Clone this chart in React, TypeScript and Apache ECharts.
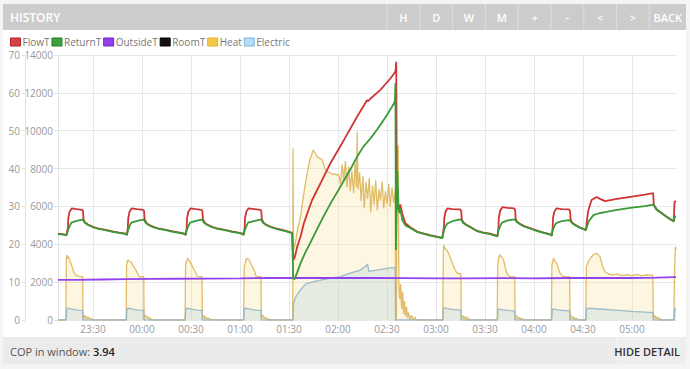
import React, { useEffect, useRef } from "react";
import * as echarts from "echarts";

// x values: minutes since 23:00
const timeTicks = [30, 60, 90, 120, 150, 180, 210, 240, 270, 300, 330, 360];
const tempTicks = [0, 10, 20, 30, 40, 50, 60, 70];
const heatTicks = [0, 2000, 4000, 6000, 8000, 10000, 12000, 14000];
const seriesNames = ["FlowT", "ReturnT", "OutsideT", "RoomT", "Heat", "Electric"];

const flowT: number[][] = [
  [8.6, 22.8], [11, 22.7], [13.8, 22.5], [14.1, 22.4], [14.7, 24.5], [14.9, 26.9], [15.7, 28.6], [17.1, 29.5], [20, 29.3], [23.3, 29.1], [23.9, 28.8], [24.2, 26.7], [25, 25.8], [27, 25.2], [30, 24.6], [33, 24.2], [37, 23.9], [42, 23.4], [46, 23.1], [50.2, 22.8], [50.8, 22.5],
  [51.4, 24.5], [51.6, 26.9], [52.4, 28.6], [53.8, 29.5], [57, 29.3], [60.7, 29.1], [61.3, 28.8], [61.6, 26.7], [62.5, 25.8], [64, 25.2], [67, 24.6], [70, 24.2], [74, 23.9], [79, 23.4], [83, 23.1], [86.2, 22.8], [86.8, 22.5],
  [87.4, 24.5], [87.6, 26.9], [88.4, 28.6], [89.8, 29.5], [93, 29.3], [96.4, 29.1], [97, 28.8], [97.3, 26.7], [98.2, 25.8], [100, 25.2], [103, 24.6], [106, 24.2], [110, 23.9], [115, 23.4], [119, 23.1], [121.7, 22.8], [122.3, 22.5],
  [122.9, 24.5], [123.1, 26.9], [123.9, 28.6], [125.3, 29.5], [129, 29.3], [132.5, 29.1], [133.1, 28.8], [133.4, 26.7], [134.3, 25.8], [136, 25.2], [139, 24.6], [142, 24.2], [146, 23.8], [150, 23.3], [152.0, 23.0],
  [152.6, 15.8], [153.5, 16.5], [155.1, 19.4], [157.1, 22.0], [159.1, 25.5], [161.5, 28.5], [164.2, 31.7], [169.3, 36.1], [175.4, 41.4], [183.6, 47.5], [191.7, 53.7], [197.9, 58.1], [198.6, 57.8], [199.5, 58.3], [206, 60.8], [212.1, 63.8], [214.5, 65.2], [215.3, 65.8], [215.7, 68.2], [216.1, 30.0], [217.2, 29.0], [218.2, 30.5], [219.4, 28.0], [221.3, 25.6], [224.3, 24.5], [228.6, 23.3], [236.5, 22.4], [243.9, 21.7],
  [244.9, 24.5], [245.1, 26.9], [245.9, 28.6], [247, 29.5], [250, 29.3], [254.9, 29.2], [255.5, 28.8], [255.8, 26.7], [256.7, 25.8], [258.5, 25.2], [261, 24.6], [265, 23.6], [269, 23.1], [273.2, 22.8], [277.7, 22.2],
  [278.3, 24.5], [278.5, 27.0], [279.3, 28.8], [280.6, 29.8], [284, 29.6], [287.9, 29.5], [288.5, 29.0], [288.8, 26.8], [289.7, 26.0], [291.5, 25.4], [294, 24.8], [298, 24.2], [302, 23.6], [306, 23.1], [310.3, 22.6], [310.9, 22.3],
  [311.5, 24.5], [311.7, 27.0], [312.5, 28.6], [313.9, 29.5], [317, 29.3], [321.5, 29.2], [322.1, 28.8], [322.4, 26.7], [323.3, 25.8], [325, 25.2], [328, 24.5], [331.9, 23.8],
  [332.5, 26.5], [333.3, 29.0], [335.3, 31.7], [338.4, 32.5], [340.5, 32.0], [343.5, 31.4], [350, 31.9], [360, 32.6], [368, 33.1], [373, 33.5], [373.4, 30.4], [375, 29.3], [377.1, 28.6], [380.7, 27.5], [383, 26.8], [385.6, 26.1], [386.1, 31.2], [387.0, 31.4],
];

const returnT: number[][] = [
  [8.6, 22.7], [11, 22.6], [13.8, 22.4], [14.1, 22.3], [14.6, 23.5], [15.5, 24.6], [16.8, 25.7], [20, 26.2], [23.5, 26.5], [24.0, 26.4], [25, 25.7], [27, 25.1], [30, 24.5], [33, 24.1], [37, 23.8], [42, 23.3], [46, 23.0], [50.2, 22.7], [50.8, 22.4],
  [51.3, 23.5], [52.2, 24.6], [53.5, 25.7], [57, 26.2], [60.8, 26.5], [61.3, 26.4], [62.3, 25.7], [64, 25.1], [67, 24.5], [70, 24.1], [74, 23.8], [79, 23.3], [83, 23.0], [86.2, 22.7], [86.8, 22.4],
  [87.3, 23.5], [88.2, 24.6], [89.5, 25.7], [93, 26.2], [96.5, 26.5], [97, 26.4], [98, 25.7], [100, 25.1], [103, 24.5], [106, 24.1], [110, 23.8], [115, 23.3], [119, 23.0], [121.7, 22.7], [122.3, 22.4],
  [122.8, 23.5], [123.7, 24.6], [125, 25.7], [129, 26.2], [132.6, 26.5], [133.1, 26.4], [134.1, 25.7], [136, 25.1], [139, 24.5], [142, 24.1], [146, 23.7], [150, 23.2], [152.0, 22.9],
  [152.6, 11.0], [153.5, 10.8], [155, 12.5], [157.1, 15.0], [160, 17.8], [163, 20.3], [167, 23.8], [171.1, 27.3], [175.5, 30.8], [180.3, 34.3], [184.5, 37.5], [188.5, 40.5], [192, 43.3], [195.6, 45.8], [200, 48.0], [203.8, 50.2], [207, 52.2], [209.9, 54.1], [212.5, 55.9], [214.5, 57.4], [214.9, 58.0], [215.2, 62.5], [215.5, 18.5], [216.3, 39.6], [217, 30.8], [217.6, 28.2], [218.2, 29.4], [219.4, 26.4], [221.3, 25.0], [224.3, 24.3], [228.6, 23.2], [236.5, 22.3], [243.9, 21.6],
  [244.8, 23.5], [245.7, 24.6], [247, 25.5], [250, 26.1], [255, 26.6], [255.5, 26.5], [256.5, 25.7], [258.5, 25.1], [261, 24.5], [265, 23.5], [269, 23.0], [273.2, 22.7], [277.7, 22.1],
  [278.2, 23.5], [279.1, 24.6], [280.4, 25.7], [284, 26.3], [288, 26.6], [288.5, 26.5], [289.5, 25.9], [291.5, 25.3], [294, 24.7], [298, 24.1], [302, 23.5], [306, 23.0], [310.3, 22.5], [310.9, 22.2],
  [311.4, 23.5], [312.3, 24.6], [313.6, 25.6], [317, 26.1], [321.6, 26.4], [322.1, 26.3], [323.1, 25.7], [325, 25.1], [328, 24.4], [331.9, 23.7],
  [332.5, 24.8], [333.5, 26.0], [336.4, 27.7], [340, 28.2], [343.5, 28.5], [350, 29.0], [360, 29.7], [368, 30.1], [373, 30.5], [373.4, 30.3], [375, 29.2], [377.1, 28.5], [380.7, 27.4], [383, 26.7], [385.6, 26.0], [386.2, 27.3], [387.0, 27.4],
];

const outsideT: number[][] = [
  [8.6, 10.6], [20, 10.6], [35, 10.7], [50, 10.8], [65, 10.85], [80, 10.9], [100, 10.95], [120, 11.0], [140, 11.1], [160, 11.15], [180, 11.1], [200, 11.1], [220, 11.05], [240, 11.0], [260, 11.0], [280, 11.05], [300, 11.0], [320, 11.1], [340, 11.1], [360, 11.1], [375, 11.2], [387, 11.35],
];

const roomT: number[][] = [];

const heat: number[][] = [
  [8.6, 0], [13.4, 0], [13.7, 3200], [14.0, 3430], [14.6, 3250], [15.1, 3350], [16.0, 3100], [17.2, 2820], [18.2, 2550], [19.4, 2380], [21.4, 2300], [23.7, 2290], [23.9, 0], [24.3, 180], [24.8, 260], [25.3, 80], [26, 200], [26.6, 60], [27.3, 150], [28, 40], [29, 90], [30, 0],
  [50.3, 0], [50.6, 2900], [51.2, 3170], [52.5, 3100], [53.2, 3080], [54.8, 2850], [56.3, 2640], [58.3, 2290], [61.1, 2290], [61.3, 0], [61.7, 200], [62.3, 250], [62.9, 90], [63.6, 180], [64.3, 50], [65, 120], [66, 0],
  [86.4, 0], [86.7, 2900], [87.9, 3260], [89, 3150], [90.5, 2900], [92, 2640], [94, 2300], [96.8, 2290], [97.0, 0], [97.4, 180], [98, 240], [98.6, 60], [99.3, 170], [100, 40], [101, 100], [102, 0],
  [122.2, 0], [122.6, 2800], [124, 3260], [125.5, 3200], [127, 2900], [128.6, 2640], [130, 2300], [132.9, 2290], [133.1, 0], [133.5, 190], [134.1, 250], [134.7, 80], [135.4, 160], [136.2, 40], [137, 90], [138, 0],
  [152.3, 0], [152.5, 9070], [152.8, 3700], [154, 4100], [155.1, 4700], [157.1, 5460], [158.6, 6400], [160.1, 7220], [161.5, 7900], [162.8, 8450], [164.9, 8980], [167.3, 8630], [170.4, 8450], [172.4, 7920], [175.4, 7750], [178, 7700], [180.5, 7660],
  [181.6, 7200], [182.6, 8200], [183.5, 7400], [184.6, 8400], [185.5, 7000], [186.6, 8100], [187.6, 6800], [188.5, 7900], [189.6, 6700], [190.5, 8300], [191.3, 7000], [191.8, 9950], [192.3, 6900], [193.3, 7800], [194.2, 6300], [195.3, 7600], [196.1, 5900], [197.2, 7300], [198.1, 6400], [199.2, 7500], [200.1, 5700], [201.2, 7100], [202.1, 6100], [203.1, 7400], [204.1, 5800], [205.1, 6900], [206, 6300], [207.1, 7300], [208, 5900], [209.1, 6800], [210.1, 6100], [211.1, 7200], [212, 6000], [213.1, 7000], [214.1, 6200], [215.1, 6900], [215.3, 0],
  [215.8, 0], [216.1, 9200], [216.9, 9200], [217.3, 1900], [217.8, 1100], [218.4, 1900], [219, 600], [219.6, 1500], [220.2, 300], [220.8, 1000], [221.4, 200], [222, 700], [222.6, 100], [223.2, 400], [224, 0], [225, 250], [226, 0], [227, 150], [228, 0],
  [244.2, 0], [244.5, 3500], [244.8, 3960], [245.6, 3750], [246.7, 3700], [247.7, 3520], [249.4, 3170], [250.8, 2820], [252.9, 2470], [255.3, 2430], [255.5, 0], [256, 170], [256.6, 230], [257.2, 60], [258, 180], [258.8, 40], [259.6, 120], [260.5, 0],
  [277.5, 0], [277.8, 2800], [278.5, 3350], [279.4, 3430], [280.5, 3300], [281.4, 3170], [282.4, 2800], [283.4, 2470], [285, 2300], [288.3, 2290], [288.5, 0], [288.9, 170], [289.5, 220], [290.1, 60], [290.8, 160], [291.6, 40], [292.5, 100], [293.5, 0],
  [310.7, 0], [311.0, 2900], [311.9, 3260], [313, 3100], [314, 2990], [315, 2700], [316, 2470], [318, 2300], [321.9, 2290], [322.1, 0], [322.5, 180], [323.1, 230], [323.7, 60], [324.4, 150], [325.2, 40], [326, 100], [327, 0],
  [331.7, 0], [332.1, 2800], [333.3, 3080], [334.5, 3250], [336.4, 3450], [338.4, 3520], [340.4, 3350], [342.2, 2800], [343.5, 2550], [345.6, 2430], [348, 2380], [351, 2420], [354, 2340], [357, 2400], [360, 2350], [363, 2410], [366, 2330], [369, 2390], [372.8, 2360], [373.1, 0], [373.5, 180], [374.1, 240], [374.7, 60], [375.4, 170], [376.2, 40], [377, 110], [378, 0],
  [385.6, 0], [386.1, 2600], [386.6, 3870], [387.0, 3700],
];

const electric: number[][] = [
  [8.6, 0], [13.6, 0], [13.9, 560], [14.5, 620], [16, 600], [18, 560], [21, 520], [23.7, 510], [23.9, 0],
  [50.5, 0], [50.8, 560], [51.3, 620], [53, 600], [55, 560], [58, 520], [61.1, 510], [61.3, 0],
  [86.5, 0], [86.8, 560], [87.3, 620], [89, 600], [91, 560], [94, 520], [96.8, 510], [97, 0],
  [122.3, 0], [122.6, 560], [123.1, 620], [125, 600], [127, 560], [130, 520], [132.9, 510], [133.1, 0],
  [152.5, 0], [152.8, 880], [154, 1200], [155.5, 1400], [157.1, 1585], [159, 1800], [161.1, 1940], [165.3, 2025], [170, 2120], [175, 2200], [181.5, 2290], [187, 2460], [193.7, 2640], [197, 2850], [198.2, 2940], [198.9, 2570], [203.9, 2640], [210, 2730], [215.1, 2780], [215.3, 0],
  [244.3, 0], [244.6, 600], [245.2, 650], [247, 600], [250, 560], [255.3, 520], [255.5, 0],
  [277.7, 0], [278, 560], [278.8, 580], [281, 540], [285, 500], [288.3, 480], [288.5, 0],
  [310.9, 0], [311.2, 560], [312, 580], [314, 550], [318, 500], [321.9, 490], [322.1, 0],
  [331.8, 0], [332.1, 560], [333.3, 620], [340, 580], [350, 520], [360, 460], [373, 390], [373.1, 0], [385.8, 0], [386.2, 600], [387, 620],
];

const headerButtons = ["H", "D", "W", "M", "+", "-", "<", ">", "BACK"];
const copValue = "3.94";

const FONT = "'Open Sans', sans-serif";

function fmtTime(v: number): string {
  const total = 23 * 60 + Math.round(v);
  const h = Math.floor(total / 60) % 24;
  const m = total % 60;
  return (h < 10 ? "0" : "") + h + ":" + (m < 10 ? "0" : "") + m;
}

export default function App() {
  const ref = useRef<HTMLDivElement>(null);
  useEffect(() => {
    if (!ref.current) return;
    const chart = echarts.init(ref.current, null, { renderer: "svg" });

    const btnW = 32.8;
    const btnX0 = 387;
    const graphic: any[] = [
      { type: "rect", z: -10, shape: { x: 3, y: 30, width: 683, height: 307 }, style: { fill: "#ffffff" }, silent: true },
      { type: "rect", z: -10, shape: { x: 3, y: 4, width: 683, height: 26 }, style: { fill: "#cccccc" }, silent: true },
      { type: "text", x: 10, y: 17, style: { text: "HISTORY", fill: "#ffffff", font: `600 12px ${FONT}`, textVerticalAlign: "middle" } },
      { type: "rect", z: -10, shape: { x: 3, y: 337, width: 683, height: 27 }, style: { fill: "#ebebeb" }, silent: true },
      { type: "rect", z: -9, shape: { x: 617, y: 337, width: 69, height: 27 }, style: { fill: "#eeeeee" }, silent: true },
      { type: "line", shape: { x1: 617, y1: 337, x2: 617, y2: 364 }, style: { stroke: "#f6f6f6", lineWidth: 1 } },
      {
        type: "text", x: 10, y: 351,
        style: {
          text: "{a|COP in window: }{b|" + copValue + "}",
          textVerticalAlign: "middle",
          rich: {
            a: { fill: "#555555", font: `11px ${FONT}` },
            b: { fill: "#222222", font: `600 11px ${FONT}` },
          },
        },
      },
      { type: "text", x: 680, y: 351, style: { text: "HIDE DETAIL", fill: "#333333", font: `600 11px ${FONT}`, textAlign: "right", textVerticalAlign: "middle" } },
    ];
    headerButtons.forEach((b, i) => {
      const x0 = btnX0 + i * btnW;
      const w = i === headerButtons.length - 1 ? 686 - x0 : btnW;
      graphic.push({ type: "line", shape: { x1: x0, y1: 4, x2: x0, y2: 30 }, style: { stroke: "#dddddd", lineWidth: 1 } });
      graphic.push({ type: "text", x: x0 + w / 2, y: 17, style: { text: b, fill: "#ffffff", font: `600 11px ${FONT}`, textAlign: "center", textVerticalAlign: "middle" } });
    });

    const legendStyles: Record<string, any> = {
      FlowT: { color: "#d44444", borderColor: "#b82424" },
      ReturnT: { color: "#3ea03e", borderColor: "#2a802a" },
      OutsideT: { color: "#9440ea", borderColor: "#7322cc" },
      RoomT: { color: "#111111", borderColor: "#000000" },
      Heat: { color: "#f6c84a", borderColor: "#e4b234" },
      Electric: { color: "#b9dcf5", borderColor: "#7fb2e0" },
    };

    const lineSeries = (name: string, data: number[][], color: string, width: number, z: number) => ({
      name, type: "line", data, yAxisIndex: 0, showSymbol: false, symbol: "none", z,
      lineStyle: { color, width }, itemStyle: { color },
    });

    chart.setOption({
      animation: false,
      backgroundColor: "#f4f4f4",
      textStyle: { fontFamily: FONT },
      graphic,
      legend: {
        left: 10, top: 37, itemWidth: 10, itemHeight: 8, itemGap: 2, padding: 0, icon: "rect",
        textStyle: { color: "#777777", fontSize: 10, fontFamily: FONT, padding: [0, 0, 0, -3] },
        data: seriesNames.map((n) => ({ name: n, icon: "rect", itemStyle: { ...legendStyles[n], borderWidth: 1 } })),
      },
      grid: { left: 58, right: 13, top: 55, bottom: 49 },
      xAxis: {
        type: "value", min: 8.6, max: 387.6,
        axisLine: { show: false },
        axisTick: { show: false, customValues: timeTicks },
        axisLabel: { customValues: timeTicks, formatter: (v: number) => fmtTime(v), color: "#999999", fontSize: 10, margin: 4, fontFamily: FONT },
        splitLine: { show: true, lineStyle: { color: "#e8e8e8", width: 1 } },
      },
      yAxis: [
        {
          type: "value", min: 0, max: 70, interval: 10, position: "left", offset: 33,
          axisLine: { show: true, lineStyle: { color: "#e2e2e2" } },
          axisTick: { show: true, length: 3, lineStyle: { color: "#e2e2e2" } },
          axisLabel: { color: "#999999", fontSize: 10, margin: 5, fontFamily: FONT, customValues: tempTicks, formatter: (v: number) => String(v) },
          splitLine: { show: false },
        },
        {
          type: "value", min: 0, max: 14000, interval: 2000, position: "left", offset: 0,
          axisLine: { show: true, lineStyle: { color: "#e2e2e2" } },
          axisTick: { show: true, length: 4, lineStyle: { color: "#e2e2e2" } },
          axisLabel: { color: "#999999", fontSize: 10, margin: 5, fontFamily: FONT, customValues: heatTicks, formatter: (v: number) => String(v) },
          splitLine: { show: true, lineStyle: { color: "#e8e8e8", width: 1 } },
        },
      ],
      series: [
        lineSeries("FlowT", flowT, "#d03535", 1.8, 5),
        lineSeries("ReturnT", returnT, "#389a38", 1.8, 6),
        lineSeries("OutsideT", outsideT, "#9142ec", 1.8, 4),
        lineSeries("RoomT", roomT, "#111111", 1.8, 4),
        {
          name: "Heat", type: "line", data: heat, yAxisIndex: 1, showSymbol: false, symbol: "none", z: 2,
          lineStyle: { color: "rgba(218,178,80,0.85)", width: 1.3 },
          itemStyle: { color: "#f6c84a" },
          areaStyle: { color: "rgba(247,220,140,0.38)", origin: "start" },
        },
        {
          name: "Electric", type: "line", data: electric, yAxisIndex: 1, showSymbol: false, symbol: "none", z: 3,
          lineStyle: { color: "rgba(150,180,200,0.9)", width: 1.3 },
          itemStyle: { color: "#b9dcf5" },
          areaStyle: { color: "rgba(160,200,230,0.35)", origin: "start" },
        },
      ],
    });
    return () => chart.dispose();
  }, []);

  return (
    <div style={{ position: "fixed", left: 0, top: 0, width: 690, height: 369 }}>
      <div ref={ref} style={{ width: 690, height: 369 }} />
    </div>
  );
}
